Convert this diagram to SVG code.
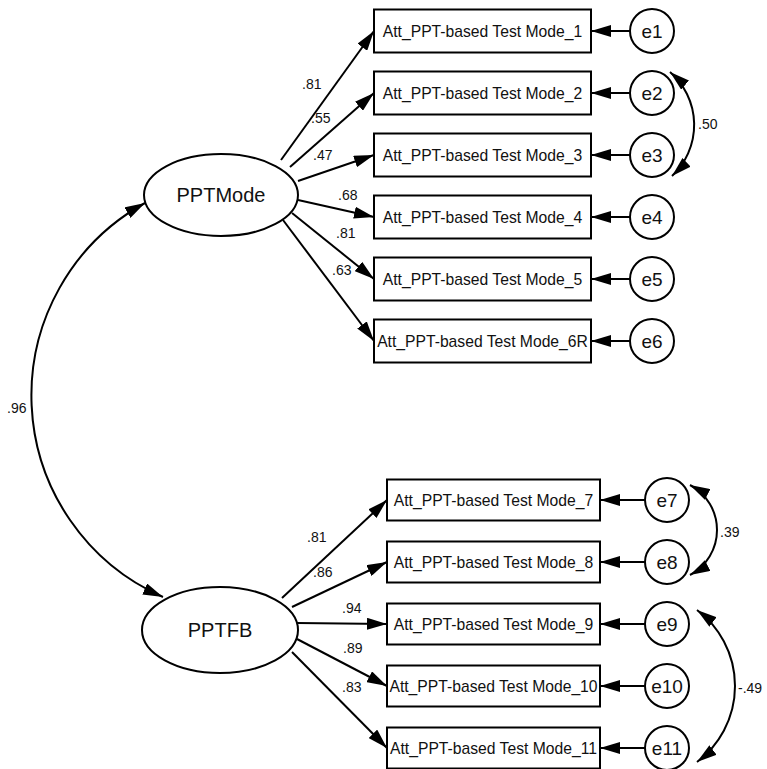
<svg xmlns="http://www.w3.org/2000/svg" width="767" height="769" viewBox="0 0 767 769">
  <style>
    .box { fill: #fff; stroke: #000; stroke-width: 2; }
    .lat { fill: #fff; stroke: #000; stroke-width: 2; }
    .err { fill: #fff; stroke: #000; stroke-width: 2; }
    .edge { fill: none; stroke: #000; stroke-width: 2; marker-end: url(#head); }
    .cov { fill: none; stroke: #000; stroke-width: 2; marker-start: url(#headS); marker-end: url(#head); }
    text { font-family: "Liberation Sans", Arial, sans-serif; fill: #111; }
    .bt { font-size: 15.7px; text-anchor: middle; }
    .lt { font-size: 20px; text-anchor: middle; }
    .et { font-size: 19px; text-anchor: middle; }
    .wt { font-size: 14px; }
  </style>
  <defs>
    <marker id="head" viewBox="0 0 20 12" refX="20" refY="6" markerWidth="20" markerHeight="12" markerUnits="userSpaceOnUse" orient="auto">
      <path d="M0,0 L20,6 L0,12 Z" fill="#000"/>
    </marker>
    <marker id="headS" viewBox="0 0 20 12" refX="20" refY="6" markerWidth="20" markerHeight="12" markerUnits="userSpaceOnUse" orient="auto-start-reverse">
      <path d="M0,0 L20,6 L0,12 Z" fill="#000"/>
    </marker>
  </defs>

  <!-- connectors: loadings, error paths, covariances -->
  <g id="connectors">
    <path class="edge" d="M281,160 L374,31"/>
    <path class="edge" d="M290,167 L374,93"/>
    <path class="edge" d="M298,181 L374,155"/>
    <path class="edge" d="M298,200 L374,217"/>
    <path class="edge" d="M292,213 L374,279"/>
    <path class="edge" d="M283,220 L374,341"/>

    <path class="edge" d="M282,598 L387,500"/>
    <path class="edge" d="M292,607 L387,562"/>
    <path class="edge" d="M297,623 L387,624"/>
    <path class="edge" d="M297,639 L387,686"/>
    <path class="edge" d="M292,652 L387,748"/>

    <path class="edge" d="M630,31 L591,31"/>
    <path class="edge" d="M630,93 L591,93"/>
    <path class="edge" d="M630,155 L591,155"/>
    <path class="edge" d="M630,217 L591,217"/>
    <path class="edge" d="M630,279 L591,279"/>
    <path class="edge" d="M630,341 L591,341"/>

    <path class="edge" d="M645,500 L600,500"/>
    <path class="edge" d="M645,562 L600,562"/>
    <path class="edge" d="M645,624 L600,624"/>
    <path class="edge" d="M645,686 L600,686"/>
    <path class="edge" d="M645,748 L600,748"/>

    <path class="cov" d="M163,597 A220,220 0 0 1 145,203"/>
    <path class="cov" d="M672,176 A70,70 0 0 0 670,72"/>
    <path class="cov" d="M690,575 A51,51 0 0 0 690,485"/>
    <path class="cov" d="M697,762 A95,95 0 0 0 697,610"/>

    <text class="wt" x="302" y="89">.81</text>
    <text class="wt" x="311" y="123">.55</text>
    <text class="wt" x="313" y="160">.47</text>
    <text class="wt" x="338" y="200">.68</text>
    <text class="wt" x="336" y="238">.81</text>
    <text class="wt" x="332" y="275">.63</text>

    <text class="wt" x="307" y="542">.81</text>
    <text class="wt" x="313" y="577">.86</text>
    <text class="wt" x="342" y="613">.94</text>
    <text class="wt" x="343" y="653">.89</text>
    <text class="wt" x="342" y="692">.83</text>

    <text class="wt" x="7" y="413">.96</text>
    <text class="wt" x="698" y="129">.50</text>
    <text class="wt" x="720" y="537">.39</text>
    <text class="wt" x="738" y="693">-.49</text>
  </g>

  <!-- latent factors -->
  <g id="PPTMode">
    <ellipse class="lat" cx="221" cy="195" rx="77" ry="41"/>
    <text class="lt" x="221" y="202">PPTMode</text>
  </g>
  <g id="PPTFB">
    <ellipse class="lat" cx="220" cy="630" rx="78" ry="43"/>
    <text class="lt" x="220" y="637">PPTFB</text>
  </g>

  <!-- observed indicators -->
  <g id="item1"><rect class="box" x="374" y="9.5" width="217" height="43"/><text class="bt" x="482.5" y="36.5">Att_PPT-based Test Mode_1</text></g>
  <g id="item2"><rect class="box" x="374" y="71.5" width="217" height="43"/><text class="bt" x="482.5" y="98.5">Att_PPT-based Test Mode_2</text></g>
  <g id="item3"><rect class="box" x="374" y="133.5" width="217" height="43"/><text class="bt" x="482.5" y="160.5">Att_PPT-based Test Mode_3</text></g>
  <g id="item4"><rect class="box" x="374" y="195.5" width="217" height="43"/><text class="bt" x="482.5" y="222.5">Att_PPT-based Test Mode_4</text></g>
  <g id="item5"><rect class="box" x="374" y="257.5" width="217" height="43"/><text class="bt" x="482.5" y="284.5">Att_PPT-based Test Mode_5</text></g>
  <g id="item6"><rect class="box" x="374" y="319.5" width="217" height="43"/><text class="bt" x="482.5" y="346.5">Att_PPT-based Test Mode_6R</text></g>

  <g id="item7"><rect class="box" x="387" y="479.5" width="213" height="41"/><text class="bt" x="493.5" y="505.5">Att_PPT-based Test Mode_7</text></g>
  <g id="item8"><rect class="box" x="387" y="541.5" width="213" height="41"/><text class="bt" x="493.5" y="567.5">Att_PPT-based Test Mode_8</text></g>
  <g id="item9"><rect class="box" x="387" y="603.5" width="213" height="41"/><text class="bt" x="493.5" y="629.5">Att_PPT-based Test Mode_9</text></g>
  <g id="item10"><rect class="box" x="387" y="665.5" width="213" height="41"/><text class="bt" x="493.5" y="691.5">Att_PPT-based Test Mode_10</text></g>
  <g id="item11"><rect class="box" x="387" y="727.5" width="213" height="41"/><text class="bt" x="493.5" y="753.5">Att_PPT-based Test Mode_11</text></g>

  <!-- error terms -->
  <g id="e1"><circle class="err" cx="652" cy="31" r="22"/><text class="et" x="652" y="38">e1</text></g>
  <g id="e2"><circle class="err" cx="652" cy="93" r="22"/><text class="et" x="652" y="100">e2</text></g>
  <g id="e3"><circle class="err" cx="652" cy="155" r="22"/><text class="et" x="652" y="162">e3</text></g>
  <g id="e4"><circle class="err" cx="652" cy="217" r="22"/><text class="et" x="652" y="224">e4</text></g>
  <g id="e5"><circle class="err" cx="652" cy="279" r="22"/><text class="et" x="652" y="286">e5</text></g>
  <g id="e6"><circle class="err" cx="652" cy="341" r="22"/><text class="et" x="652" y="348">e6</text></g>

  <g id="e7"><circle class="err" cx="667" cy="500" r="22"/><text class="et" x="667" y="507">e7</text></g>
  <g id="e8"><circle class="err" cx="667" cy="562" r="22"/><text class="et" x="667" y="569">e8</text></g>
  <g id="e9"><circle class="err" cx="667" cy="624" r="22"/><text class="et" x="667" y="631">e9</text></g>
  <g id="e10"><circle class="err" cx="667" cy="686" r="22"/><text class="et" x="667" y="693">e10</text></g>
  <g id="e11"><circle class="err" cx="667" cy="748" r="22"/><text class="et" x="667" y="755">e11</text></g>
</svg>
